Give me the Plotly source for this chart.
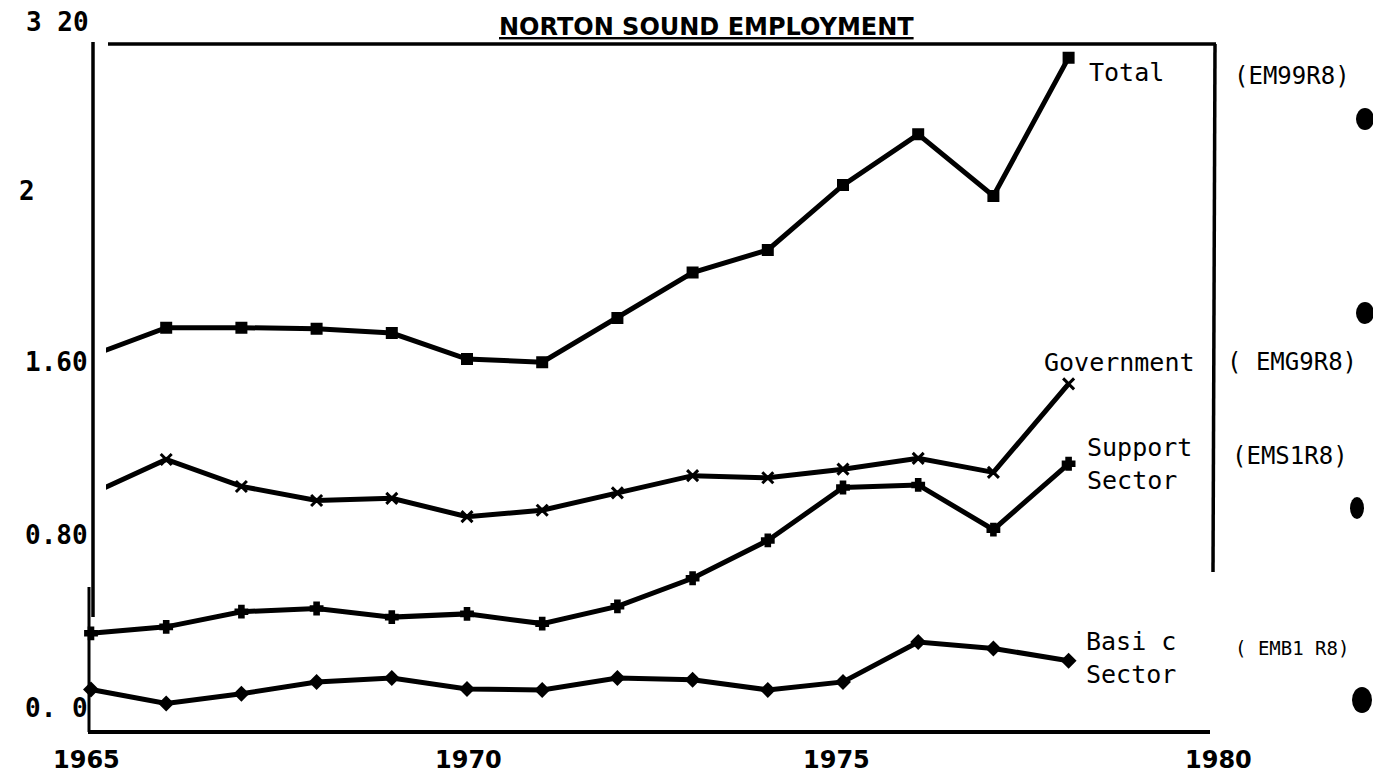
import plotly.graph_objects as go

# ---- data (thousands of employees) ----
years = [1965, 1966, 1967, 1968, 1969, 1970, 1971, 1972, 1973, 1974, 1975, 1976, 1977, 1978]
total = [1.64, 1.77, 1.77, 1.765, 1.745, 1.625, 1.61, 1.815, 2.025, 2.13, 2.43, 2.665, 2.38, 3.02]
government = [1.0, 1.16, 1.035, 0.97, 0.98, 0.895, 0.925, 1.005, 1.085, 1.075, 1.115, 1.165, 1.1, 1.51]
support = [0.355, 0.385, 0.455, 0.47, 0.43, 0.445, 0.4, 0.48, 0.61, 0.785, 1.03, 1.042, 0.835, 1.14]
basic = [0.095, 0.03, 0.075, 0.13, 0.148, 0.097, 0.093, 0.148, 0.14, 0.093, 0.13, 0.315, 0.285, 0.228]

ytick_vals = [0.0, 0.8, 1.6, 2.4, 3.2]
ytick_text = ["0. 0", "0.80", "1.60", "2", "3 20"]
xtick_vals = [1965, 1970, 1975, 1980]
xtick_text = ["1965", "1970", "1975", "1980"]

W, H = 1373, 776
L, R, T, B = 90, 1215, 43, 732
Y0PX = 710.0          # pixel row of value 0
YPX_PER_UNIT = 216.0  # pixels per 1.0 (thousand)
XPX_PER_YEAR = 75.2


def px(x):
    return (x - L) / (R - L)


def py(y):
    return (B - y) / (B - T)


fig = go.Figure()
series = [
    ("Total", total, "square", 9),
    ("Government", government, "x-thin-open", 11),
    ("Support Sector", support, "cross", 9),
    ("Basic Sector", basic, "diamond", 9),
]
for name, vals, sym, sz in series:
    fig.add_trace(go.Scatter(
        x=years, y=vals, mode="lines+markers", name=name,
        line=dict(color="black", width=5),
        marker=dict(symbol=sym, size=sz, color="black",
                    line=dict(color="black", width=3)),
        showlegend=False, cliponaxis=False,
    ))

# y "tick" labels as annotations (plotter style)
ylab_font = dict(family="DejaVu Sans Mono", size=26, color="black", weight="bold")
for v, t in zip(ytick_vals, ytick_text):
    ypix = Y0PX - v * YPX_PER_UNIT
    if v == 3.2:
        fig.add_annotation(x=px(91), y=py(22), xref="paper", yref="paper", text=t,
                           showarrow=False, xanchor="right", yanchor="middle", font=ylab_font)
    elif v == 2.4:
        fig.add_annotation(x=px(17), y=py(191), xref="paper", yref="paper", text=t,
                           showarrow=False, xanchor="left", yanchor="middle", font=ylab_font)
    else:
        fig.add_annotation(x=px(90), y=py(ypix - 2), xref="paper", yref="paper", text=t,
                           showarrow=False, xanchor="right", yanchor="middle", font=ylab_font)

xlab_px = {1965: 86, 1970: 468, 1975: 836, 1980: 1218}
for v, t in zip(xtick_vals, xtick_text):
    fig.add_annotation(x=px(xlab_px[v]), y=py(760), xref="paper", yref="paper", text=t,
                       showarrow=False, xanchor="center", yanchor="middle",
                       font=dict(family="DejaVu Sans", size=24, color="black", weight="bold"))

# title
fig.add_annotation(x=px(706), y=py(27), xref="paper", yref="paper",
                   text="<u>NORTON SOUND EMPLOYMENT</u>", showarrow=False,
                   xanchor="center", yanchor="middle",
                   font=dict(family="DejaVu Sans", size=24, color="black", weight="bold"))

# series labels
lab_font = dict(family="DejaVu Sans Mono", size=25, color="black")
labels = [
    ("Total", 1087, 73),
    ("Government", 1042, 362),
    ("Support<br>Sector", 1085, 464),
    ("Basi c<br>Sector", 1084, 658),
]
for t, x, y in labels:
    fig.add_annotation(x=px(x), y=py(y), xref="paper", yref="paper", text=t, showarrow=False,
                       xanchor="left", yanchor="middle", align="left", font=lab_font)

codes = [
    ("(EM99R8)", 1232, 76, 24),
    ("( EMG9R8)", 1225, 362, 24),
    ("(EMS1R8)", 1230, 456, 24),
    ("( EMB1 R8)", 1233, 648, 19),
]
for t, x, y, s in codes:
    fig.add_annotation(x=px(x), y=py(y), xref="paper", yref="paper", text=t, showarrow=False,
                       xanchor="left", yanchor="middle",
                       font=dict(family="DejaVu Sans Mono", size=s, color="black"))

shapes = []
# the Total and Government pen strokes begin a little right of the axis
for y0, y1 in [(330, 380), (470, 510)]:
    shapes.append(dict(type="rect", xref="paper", yref="paper", x0=px(80), x1=px(106),
                       y0=py(y1), y1=py(y0), fillcolor="white", line=dict(width=0)))
# frame lines
shapes += [
    dict(type="line", xref="paper", yref="paper", x0=px(108), x1=px(1216), y0=py(44), y1=py(44),
         line=dict(color="black", width=3.5)),
    dict(type="line", xref="paper", yref="paper", x0=px(1215), x1=px(1213), y0=py(44), y1=py(572),
         line=dict(color="black", width=3.5)),
    dict(type="line", xref="paper", yref="paper", x0=px(93), x1=px(93), y0=py(42), y1=py(617),
         line=dict(color="black", width=3.5)),
    dict(type="line", xref="paper", yref="paper", x0=px(89), x1=px(89), y0=py(587), y1=py(732),
         line=dict(color="black", width=3)),
    dict(type="line", xref="paper", yref="paper", x0=px(88), x1=px(1210), y0=py(732), y1=py(732),
         line=dict(color="black", width=4)),
]
# punch-hole dots at right edge
for cx, cy, rx, ry in [(1365, 119, 9, 11), (1365, 313, 9, 11), (1357, 508, 7, 11), (1362, 700, 10, 13)]:
    shapes.append(dict(type="circle", xref="paper", yref="paper",
                       x0=px(cx - rx), x1=px(cx + rx), y0=py(cy + ry), y1=py(cy - ry),
                       fillcolor="black", line=dict(color="black", width=0)))

fig.update_layout(
    width=W, height=H,
    margin=dict(l=L, r=W - R, t=T, b=H - B),
    paper_bgcolor="white", plot_bgcolor="white",
    shapes=shapes,
    xaxis=dict(range=[1965 - 1 / XPX_PER_YEAR, 1965 + (R - L - 1) / XPX_PER_YEAR], showgrid=False,
               zeroline=False, showticklabels=False, ticks="", showline=False),
    yaxis=dict(range=[-(B - Y0PX) / YPX_PER_UNIT, (Y0PX - T) / YPX_PER_UNIT], showgrid=False,
               zeroline=False, showticklabels=False, ticks="", showline=False),
)

fig.write_html("out.html", config={"displayModeBar": False},
               post_script="document.body.style.margin='0px';document.body.style.overflow='hidden';")
